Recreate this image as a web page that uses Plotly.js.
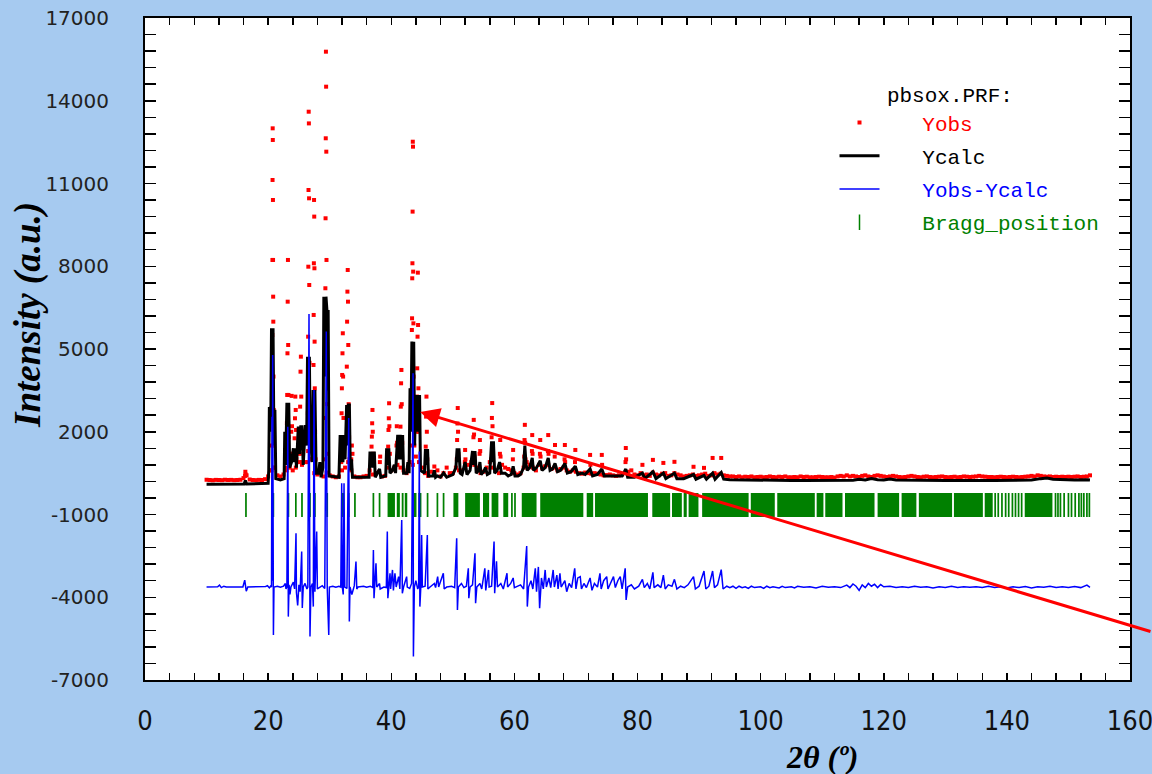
<!DOCTYPE html>
<html>
<head>
<meta charset="utf-8">
<script src="https://cdn.plot.ly/plotly-3.0.1.min.js"></script>
<style>html,body{margin:0;padding:0;background:#A6CAF0;}#chart{width:1152px;height:774px;}</style>
</head>
<body>
<div id="chart"></div>
<script>
// ---- Yobs: background scan points (2theta, counts) ----
const obsBgTheta = [
10,10.5,11,11.5,12,12.5,13,13.5,14,14.5,15,15.5,16,16.5,17,17.5,18,18.5,19,19.5,
20,20.5,21,21.5,22,22.5,23,23.5,24,24.5,25,25.5,26,26.5,27,27.5,28,28.5,29,29.5,
30,30.5,31,31.5,32,32.5,33,33.5,34,34.5,35,35.5,36,36.5,37,37.5,38,38.5,39,39.5,
40,40.5,41,41.5,42,42.5,43,43.5,44,44.5,45,45.5,46,46.5,47,47.5,48,48.5,49,49.5,
50,50.5,51,51.5,52,52.5,53,53.5,54,54.5,55,55.5,56,56.5,57,57.5,58,58.5,59,59.5,
60,60.5,61,61.5,62,62.5,63,63.5,64,64.5,65,65.5,66,66.5,67,67.5,68,68.5,69,69.5,
70,70.5,71,71.5,72,72.5,73,73.5,74,74.5,75,75.5,76,76.5,77,77.5,78,78.5,79,79.5,
80,80.5,81,81.5,82,82.5,83,83.5,84,84.5,85,85.5,86,86.5,87,87.5,88,88.5,89,89.5,
90,90.5,91,91.5,92,92.5,93,93.5,94,94.5,95,95.5,96,96.5,97,97.5,98,98.5,99,99.5,
100,100.5,101,101.5,102,102.5,103,103.5,104,104.5,105,105.5,106,106.5,107,107.5,108,108.5,109,109.5,
110,110.5,111,111.5,112,112.5,113,113.5,114,114.5,115,115.5,116,116.5,117,117.5,118,118.5,119,119.5,
120,120.5,121,121.5,122,122.5,123,123.5,124,124.5,125,125.5,126,126.5,127,127.5,128,128.5,129,129.5,
130,130.5,131,131.5,132,132.5,133,133.5,134,134.5,135,135.5,136,136.5,137,137.5,138,138.5,139,139.5,
140,140.5,141,141.5,142,142.5,143,143.5,144,144.5,145,145.5,146,146.5,147,147.5,148,148.5,149,149.5,
150,150.5,151,151.5,152,152.5,153,153.5];
const obsBgCounts = [
260,250,240,255,250,245,260,250,255,245,250,260,320,420,270,250,245,255,250,280,
380,600,700,420,380,450,600,700,600,700,900,800,900,1300,1000,500,450,700,380,520,
420,380,350,380,600,700,900,600,380,350,350,380,400,600,450,500,550,380,400,700,
600,700,800,700,600,500,900,800,1100,900,700,500,400,550,450,600,380,500,700,500,
500,700,600,600,700,800,900,800,700,500,550,700,900,700,600,500,800,700,650,600,
500,450,500,700,900,800,700,600,800,700,750,800,650,700,600,650,700,600,550,600,
550,500,480,520,500,480,500,480,450,420,430,450,420,400,420,450,500,550,600,450,
420,500,420,450,400,520,450,420,480,500,400,420,500,450,420,380,400,420,450,400,
420,450,480,400,420,500,450,480,420,400,380,380,360,380,350,370,360,380,350,360,
370,350,360,380,360,350,370,360,380,350,350,360,350,380,360,370,350,350,360,370,
360,350,350,360,340,380,400,380,420,380,400,380,360,400,420,380,360,400,420,400,
380,360,380,400,380,360,350,360,380,400,380,360,350,370,380,360,350,360,370,380,
360,350,360,370,350,360,380,370,360,370,380,400,380,370,360,360,350,360,370,360,
350,360,370,360,350,360,370,380,400,380,420,400,380,370,380,360,370,360,370,360,
370,360,370,380,360,370,380,420];

// ---- Yobs: points on the Bragg peaks ----
const obsPeakTheta = [
16.25,16.3,16.35,
20.56,20.6,20.63,20.66,20.68,20.7,20.72,20.74,20.76,20.78,20.8,20.82,20.84,20.87,20.9,20.94,20.98,
22.95,23,23.05,23.1,23.14,23.18,23.22,23.26,23.3,23.35,23.4,
23.7,23.76,23.82,23.88,23.95,
24.3,24.36,24.42,24.48,24.54,24.6,
25.15,25.2,25.26,25.32,25.38,25.45,25.52,
26.42,26.46,26.5,26.53,26.56,26.59,26.62,26.65,26.68,26.72,26.77,26.83,
27.3,27.34,27.37,27.4,27.43,27.46,27.49,27.52,27.55,27.58,27.63,27.7,
29.18,29.22,29.26,29.3,29.33,29.36,29.39,29.42,29.45,29.48,29.52,29.56,29.62,
31.88,31.93,31.98,32.03,32.08,32.13,32.18,32.24,32.3,
32.72,32.78,32.83,32.88,32.93,32.97,33.02,33.08,33.15,33.22,
33.5,33.6,33.7,
36.8,36.85,36.9,36.95,37,37.05,
38.15,38.2,
39.5,39.55,39.6,39.65,39.7,39.77,
40.85,40.9,40.95,
41.5,41.55,41.6,41.65,41.7,41.78,
43.25,43.3,43.35,43.38,43.41,43.44,43.47,43.5,43.53,43.56,43.6,43.63,43.68,43.75,
44.12,44.17,44.22,44.27,44.32,44.36,44.41,44.48,
45.6,45.66,45.72,45.78,45.85,
47,
50.65,50.7,50.75,50.8,50.85,50.9,
51.95,52,52.05,
53.3,53.35,53.4,53.45,53.5,
54.35,54.4,54.45,
56.25,56.3,56.35,56.4,56.45,56.5,
57.65,57.7,57.75,
59.75,59.8,
61.6,61.65,61.7,61.75,61.8,
62.85,62.9,62.95,
64.15,64.2,64.25,
65.45,65.5,65.55,
66.55,66.6,
68.15,68.2,68.25,
69.85,69.9,
72.3,72.35,
74.2,74.25,
78.05,78.1,78.15,
80.8,82.5,84.2,86,89.1,90.8,92.2,93.6];
const obsPeakCounts = [
400,550,450,
600,1500,2790,4000,5508,8228,11128,13000,12578,10403,8228,6897,5991,4000,2790,1500,700,
700,1500,2307,3334,4844,6716,8228,5146,3334,1800,900,
1200,2000,3300,2200,1200,
1763,2488,3274,2790,2065,1000,
1200,2910,4178,4722,3274,1800,900,
900,2670,5447,7984,10765,13603,13179,10463,7321,4500,2000,1000,
1500,2307,4421,6234,8108,10403,9800,7926,5267,3575,2000,1000,
1000,2500,4500,7202,9739,12639,15779,14510,12154,8228,5500,3000,1200,
900,2670,3575,4059,4844,5570,4000,2500,1400,
1642,4360,5991,7080,7865,6716,5146,3000,1800,1000,
1000,1500,1200,
1461,1823,2307,2790,2000,1200,
900,1100,
1461,2065,2488,3033,2200,1200,
1500,2200,1600,
2185,2910,3757,4240,3000,1600,
1500,3500,5689,6113,7563,8108,9981,12515,12335,7805,5930,4000,2500,1500,
2000,3274,4300,5447,7768,5871,3575,2000,
1461,2549,3274,2000,1000,
740,
1000,1700,2300,2860,2000,1200,
900,1340,1000,
1200,1800,2430,1900,1100,
1200,1700,1300,
1000,1800,2500,3040,2200,1300,
1200,1700,1100,
1000,1340,
1100,1700,2250,1600,1000,
1300,1880,1200,
1200,1700,1100,
1300,1880,1200,
1100,1520,
1000,1520,900,
900,1340,
1160,800,
1160,800,
900,1410,1000,
800,980,870,910,730,690,1050,1050];

// ---- Ycalc ----
const calcTheta = [
10,16.1,16.3,16.5,20,
20.1,20.2,20.3,20.45,20.55,20.7,20.8,20.9,21,21.1,21.25,22,
22.6,22.7,22.85,23.05,23.2,23.35,23.5,23.8,24.1,24.3,24.45,24.6,24.9,25.1,25.3,25.5,25.7,
26.05,26.25,26.4,26.55,26.7,26.85,27,27.15,27.3,27.45,27.6,27.8,28.2,28.4,28.6,
28.9,29.05,29.25,29.4,29.55,29.65,29.75,29.9,31.5,
31.7,31.85,32,32.15,32.3,32.5,32.75,32.9,33.05,33.2,33.35,33.55,33.7,
36.4,36.55,36.75,36.9,37.1,37.25,37.4,38.1,38.3,
39.1,39.25,39.45,39.6,39.8,40.2,40.5,40.7,
41.05,41.25,41.45,41.65,41.85,42,42.5,42.7,42.9,
43.05,43.2,43.35,43.5,43.65,43.8,43.95,44.15,44.3,44.45,44.6,44.75,
45.4,45.55,45.75,45.9,46.05,46.8,47,47.2,
47.5,48,48.5,49,49.5,50,50.5,50.7,50.85,51,51.2,51.5,52,52.3,52.8,53.2,53.4,53.6,53.8,54.2,54.4,54.6,55,55.3,55.6,
56,56.3,56.5,56.6,56.8,57.2,57.6,57.9,58.5,59,59.5,59.8,60.1,60.6,61,61.5,61.7,61.9,62.1,62.5,62.9,63.1,63.6,64.2,64.5,
65,65.5,65.8,66.2,66.6,67,67.5,68.2,68.6,69.2,69.9,70.3,71,71.5,72.3,72.7,73.5,74.2,74.6,75.5,76.5,77.5,78.1,78.4,79.5,
80.8,81.2,82.5,83,84.2,84.6,86,86.4,87.5,89.1,89.5,90.8,91.2,92.2,92.6,93.6,94,
95,97,99,101,103,105,107,109,111,113,115,116,117,118,119,120,121,122,124,126,128,130,132,134,136,138,140,142,144,145.5,146.5,147.5,149,151,153,153.5];
const calcCounts = [
100,105,230,105,130,
600,2900,2000,2900,5750,4000,5750,2800,1500,2800,300,250,
300,2000,800,3050,2000,3050,700,900,1400,900,1400,700,2185,1200,2185,2185,800,
2240,1500,4720,3000,4720,1400,1400,900,3515,2000,3515,500,500,900,350,
700,6897,4000,6897,6415,3500,6415,400,350,
1884,900,1884,900,1884,1000,2970,1500,2970,2970,600,1000,350,
350,1280,700,1280,700,1280,350,650,350,
400,1400,800,1400,500,600,800,500,
1884,1000,1884,1000,1884,500,500,900,500,
3575,2000,5267,3000,5267,1500,3334,2000,3334,2000,3334,600,
500,1370,800,1370,400,400,600,350,
400,350,500,350,400,450,700,1400,900,1400,500,450,900,450,600,1300,800,1300,500,600,900,450,550,700,450,
500,1650,900,1650,500,600,900,500,500,400,450,750,400,400,450,700,1500,800,600,700,1050,600,700,950,600,
700,1050,600,650,850,550,600,850,500,550,750,450,500,450,650,400,450,650,400,400,380,400,650,350,350,
500,300,550,300,500,300,500,300,300,450,280,420,280,500,280,520,280,
260,250,240,240,230,235,230,230,235,230,240,280,250,300,260,250,290,250,240,235,240,235,230,240,230,230,235,240,250,300,320,280,260,250,260,250];

// ---- Yobs - Ycalc (plotted with its offset) ----
const diffTheta = [
10,11.8,12.1,12.4,12.8,13.2,15.9,16.2,16.45,16.7,19.6,19.9,20.2,20.4,
20.55,20.62,20.68,20.74,20.86,20.95,21.5,22,22.5,22.8,22.9,23.05,23.2,23.28,23.4,23.55,23.7,
24.1,24.3,24.53,24.6,24.8,25,25.2,25.45,25.55,25.7,26,26.3,26.45,26.64,26.8,26.95,
27.2,27.34,27.45,27.6,27.78,27.89,28,28.4,28.8,29.2,29.45,29.6,29.85,29.95,
30.5,31,31.5,31.8,31.95,32.05,32.2,32.33,32.45,32.8,33.09,33.19,33.3,33.6,34,34.27,34.4,34.6,
35.5,36,36.6,37,37.1,37.2,37.3,37.52,37.65,38.1,38.2,38.8,39.2,39.36,39.45,39.6,39.8,39.9,
40.2,40.35,40.6,40.8,41.2,41.4,41.7,41.8,42,42.5,42.6,43,43.3,43.54,43.6,43.75,
44,44.3,44.45,44.56,44.65,44.8,44.94,45.05,45.5,45.86,45.95,46.3,47,47.2,47.54,47.7,48.46,48.6,49,
49.8,50.3,50.63,50.75,50.9,51.4,51.8,52.2,52.52,52.6,52.8,53.2,53.6,53.7,53.9,54.4,54.7,
55.2,55.35,55.8,55.9,56.3,56.7,56.8,57.1,57.25,57.8,58.2,58.8,58.9,59.4,59.8,60,60.5,61,61.5,
62,62.1,62.3,62.7,63,63.4,63.6,63.9,64.1,64.4,64.7,65,65.2,65.6,65.9,66.3,66.5,66.9,67.1,67.4,67.6,
68.2,68.5,68.9,69.3,69.8,70,70.3,70.7,70.9,71.3,71.7,72.3,72.6,73,73.5,73.9,74.1,74.5,75,75.2,75.6,
76.1,76.4,76.8,77.2,77.5,78,78.15,78.4,79,79.5,80.2,80.8,81.1,81.6,82,82.5,82.7,83.3,83.8,84.2,84.5,
85,85.6,86,86.4,87,87.6,88.2,89.1,89.4,90,90.8,91.1,91.6,92.2,92.5,93,93.6,93.9,94.5,
95,95.5,96,96.5,97,97.5,98,98.5,99,100,100.5,101,101.5,102,103,103.5,104,105,105.5,106,107,108,109,
110,111,112,113,114,114.5,115,115.5,116,116.5,117,117.5,118,118.5,119,119.5,120,121,122,123,124,125,
126,127,128,129,130,131,132,133,134,135,136,137,138,139,140,141,142,143,144,145,146,147,148,149,
150,151,152,153,153.5];
const diffCounts = [
-3630,-3620,-3560,-3650,-3600,-3630,-3630,-3380,-3780,-3630,-3610,-3580,-3660,-3600,
-3630,2547,-3400,4784,-5366,-3630,-3600,-3640,-3600,-3500,-3700,-3630,2185,-4702,-3550,-3900,-3630,
-3450,-3700,-1680,-3830,-4300,-3550,-3800,-2346,-4390,-3630,-3500,-3700,-3630,6270,-5427,-3630,
-3500,-4339,3515,-3800,-2800,-1620,-3700,-3630,-3580,-3680,5630,-3630,-5366,-3630,
-3600,-3640,-3600,-3630,137,-3630,-3900,137,-3630,-3680,2500,-4883,-3630,-3900,-3580,-2708,-3700,-3630,
-3600,-3640,-3600,-3650,-2285,-4036,-3630,-2767,-3630,-3500,-3700,-3630,-3650,-1621,-4036,-3630,-3131,-3700,
-3010,-3750,-3131,-3630,-3250,-3700,-1198,-3855,-3630,-3252,-3630,-3680,-3500,4120,-6152,-3630,
-3400,-3700,-3630,1280,-4339,-3630,-1741,-3630,-3600,-1741,-3700,-3630,-3500,-3650,-3252,-3630,-3131,-3700,-3630,
-3600,-3650,-1862,-4460,-3630,-3500,-3650,-3600,-2949,-4036,-3630,-3550,-2406,-4217,-3630,-3500,-3700,
-2949,-3750,-3010,-3630,-3600,-1983,-3855,-2700,-3630,-3500,-3700,-3131,-3630,-3500,-3300,-3650,-3600,-3550,-3700,
-2140,-4339,-3630,-3400,-3700,-2949,-3800,-2900,-4400,-3300,-3700,-3010,-3630,-3300,-3650,-3010,-3630,-3200,-3700,-3131,-3630,
-3400,-3800,-3500,-3650,-2949,-3700,-3300,-3252,-3700,-3500,-3650,-3300,-3750,-3500,-3630,-3131,-3700,-3400,-3252,-3700,-3500,
-3252,-3650,-3400,-3252,-3700,-2950,-4100,-3630,-3550,-3700,-3600,-3350,-3650,-3500,-3700,-3100,-3650,-3550,-3650,-3200,-3700,
-3550,-3600,-3350,-3700,-3600,-3650,-3550,-3250,-3700,-3600,-3050,-3700,-3600,-3050,-3650,-3550,-3000,-3700,-3600,
-3650,-3600,-3680,-3600,-3650,-3620,-3680,-3600,-3650,-3620,-3680,-3600,-3650,-3620,-3660,-3600,-3650,-3620,-3660,-3600,-3640,-3620,-3660,
-3600,-3640,-3620,-3650,-3560,-3650,-3520,-3600,-3750,-3550,-3650,-3500,-3600,-3530,-3650,-3540,-3620,-3600,-3650,-3620,-3650,-3600,
-3640,-3620,-3660,-3620,-3650,-3600,-3650,-3620,-3640,-3620,-3650,-3600,-3650,-3620,-3660,-3620,-3650,-3610,-3660,-3620,-3640,-3600,-3650,-3620,
-3650,-3610,-3650,-3560,-3640];

// ---- Bragg positions ----
const braggSingle = [16.4,20.85,23.3,24.5,25.5,26.8,27.6,29.6,33.1,34.1,37.1,38.1,45.9,47.5,48.5,59.6,60.1,
138.1,138.6,139.2,139.8,140.3,140.9,141.4,141.9,142.4,147.9,148.3,148.7,149.3,150.0,150.5,151.1,151.7,152.1,152.5,153.0,153.4];
const braggBandStart = [31.95,39.4,40.9,41.7,42.2,43.6,44.4,50.1,52.0,54.9,56.3,58.2,61.2,64.2,71.75,73.1,82.4,85.6,87.5,88.3,90.5,98.4,102.7,109.1,110.5,113.7,119.0,122.9,125.7,131.4,136.4,142.9];
const braggBandEnd   = [32.35,40.6,41.4,42.0,42.6,44.1,44.9,50.9,54.4,55.9,57.4,59.0,63.6,71.2,72.8,81.7,85.3,87.2,88.0,89.9,98.05,102.3,108.8,110.2,113.3,118.5,122.5,125.3,131.1,136.1,137.7,147.4];
const braggLow = -1090, braggHigh = -220;

// ---- axis ticks and legend texts ----
const yTickVals = [-7000,-4000,-1000,2000,5000,8000,11000,14000,17000];
const yTickText = ['-7000','-4000','-1000','2000','5000','8000','11000','14000','17000'];
const xTickVals = [0,20,40,60,80,100,120,140,160];
const xTickText = ['0','20','40','60','80','100','120','140','160'];
const legendNames = ['Yobs','Ycalc','Yobs-Ycalc','Bragg_position'];
const legendColors = ['#FF0000','#000000','#0000FF','#008000'];
const legendTitle = 'pbsox.PRF:';

// build bragg bars
const bx = [], bw = [];
braggSingle.forEach(t => { bx.push(t); bw.push(0.28); });
braggBandStart.forEach((s, i) => { bx.push((s + braggBandEnd[i]) / 2); bw.push(braggBandEnd[i] - s); });

const pad = '\u00a0\u00a0\u00a0';
const lname = i => pad + '<span style="color:' + legendColors[i] + '">' + legendNames[i] + '</span>';

const traces = [
  {type:'bar', x:bx, y:bx.map(() => braggHigh - braggLow), base:braggLow, width:bw,
   marker:{color:'#008000', line:{width:0}}, showlegend:false, hoverinfo:'x'},
  {type:'scatter', mode:'markers', name:lname(0), legendgroup:'a',
   x:obsBgTheta.concat(obsPeakTheta), y:obsBgCounts.concat(obsPeakCounts),
   marker:{color:'#FF0000', size:4, symbol:'square'}},
  {type:'scatter', mode:'lines', name:lname(1), legendgroup:'b',
   x:calcTheta, y:calcCounts, line:{color:'#000000', width:3}},
  {type:'scatter', mode:'lines', name:lname(2), legendgroup:'c',
   x:diffTheta, y:diffCounts, line:{color:'#0000FF', width:1.5}},
  {type:'scatter', mode:'markers', name:lname(3), legendgroup:'d',
   x:[null], y:[null], marker:{color:'#008000', size:11, symbol:'line-ns-open', line:{color:'#008000', width:1.5}}}
];

const axisCommon = {
  showline:true, linewidth:2, linecolor:'#000', mirror:'ticks',
  ticks:'inside', tickcolor:'#000', tickwidth:1.5, tickmode:'array',
  showgrid:false, zeroline:false, fixedrange:true, ticklabeloverflow:'allow'
};

const layout = {
  width:1152, height:774,
  paper_bgcolor:'#A6CAF0', plot_bgcolor:'#FFFFFF',
  margin:{l:145, r:22, t:18, b:94},
  showlegend:true,
  legend:{x:0.70, y:0.914, xanchor:'left', yanchor:'top', bgcolor:'rgba(0,0,0,0)',
    font:{family:'Liberation Mono, DejaVu Sans Mono, monospace', size:21, color:'#000'},
    title:{text:'\u00a0\u00a0\u00a0\u00a0' + legendTitle, font:{family:'Liberation Mono, DejaVu Sans Mono, monospace', size:21, color:'#000'}},
    itemwidth:40, tracegroupgap:3},
  xaxis:Object.assign({}, axisCommon, {
    range:[0,160], tickvals:xTickVals, ticktext:xTickText, ticklen:7,
    minor:{tickmode:'linear', tick0:0, dtick:4, ticks:'inside', ticklen:7, tickwidth:1.5, tickcolor:'#000'},
    tickfont:{family:'Liberation Sans Narrow, DejaVu Sans Condensed, Liberation Sans, sans-serif', size:27, color:'#111'},
    ticklabelstandoff:16
  }),
  yaxis:Object.assign({}, axisCommon, {
    range:[-7000,17000], tickvals:yTickVals, ticktext:yTickText, ticklen:11,
    minor:{tickmode:'linear', tick0:-7000, dtick:600, ticks:'inside', ticklen:11, tickwidth:1.5, tickcolor:'#000'},
    tickfont:{family:'DejaVu Sans, Verdana, sans-serif', size:20, color:'#222'},
    ticklabelstandoff:30
  }),
  annotations:[
    {xref:'paper', yref:'paper', x:-0.119, y:0.551, text:'Intensity (a.u.)', textangle:-90, showarrow:false,
     xanchor:'center', yanchor:'middle',
     font:{family:'Liberation Serif, Times New Roman, serif', size:37, color:'#000', weight:'bold', style:'italic'}},
    {xref:'paper', yref:'paper', x:0.688, y:-0.116, text:'2θ (º)', showarrow:false,
     xanchor:'center', yanchor:'middle',
     font:{family:'Liberation Serif, Times New Roman, serif', size:32, color:'#000', weight:'bold', style:'italic'}},
    {xref:'x', yref:'y', x:44.7, y:2717, text:'', showarrow:true, axref:'pixel', ayref:'pixel',
     ax:740, ay:220, arrowcolor:'#FF0000', arrowwidth:3, arrowhead:2, arrowsize:1.3, standoff:0}
  ]
};

Plotly.newPlot('chart', traces, layout, {displayModeBar:false, staticPlot:true});
</script>
</body>
</html>
